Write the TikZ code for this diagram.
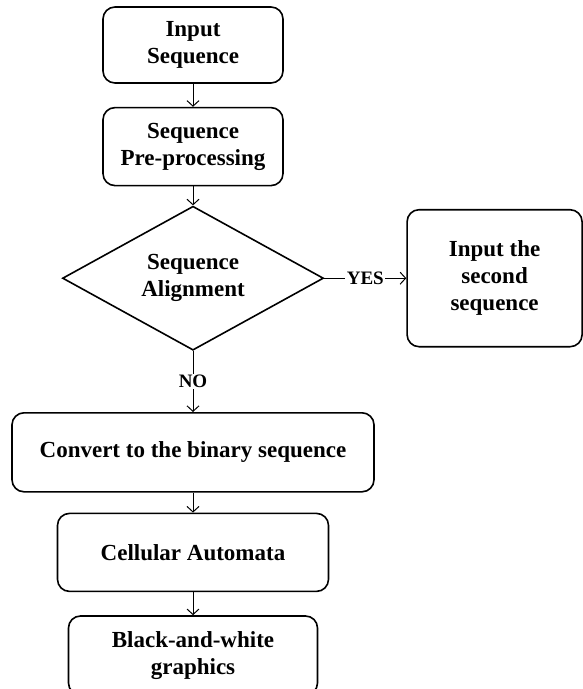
\documentclass[tikz,border=0pt]{standalone}
\usepackage{fontspec}
\setmainfont{Liberation Serif}
\usetikzlibrary{arrows.meta,positioning,shapes.geometric}

\begin{document}
\begin{tikzpicture}[
node distance=21pt and 82pt,
font=\bfseries\fontsize{23}{27}\selectfont,
block/.style={draw,line width=1.6pt,rounded corners=12pt,align=center,inner sep=0pt},
decision/.style={diamond,aspect=1.8,draw,line width=1.6pt,align=center,inner sep=0pt,minimum width=261pt,minimum height=144pt},
arr/.style={-{Straight Barb[length=5.5pt,width=12pt]},line width=1pt},
lbl/.style={fill=white,inner sep=1.5pt,font=\bfseries\fontsize{19}{21}\selectfont}
]
\useasboundingbox (0,0) rectangle (583pt,-689pt);
\node[block,minimum width=180pt,minimum height=76pt] (input) at (193pt,-45pt) {Input\\Sequence};
\node[block,minimum width=180pt,minimum height=78pt,below=23pt of input] (prep) {Sequence\\Pre-processing};
\node[decision,below=19pt of prep] (align) {Sequence\\Alignment};
\node[block,minimum width=175pt,minimum height=137pt,right=82pt of align] (second) {Input the\\second\\sequence};
\node[block,minimum width=362pt,minimum height=79pt,below=61pt of align] (convert) {Convert to the binary sequence};
\node[block,minimum width=271pt,minimum height=78pt,below=20pt of convert] (automata) {Cellular Automata};
\node[block,minimum width=249pt,minimum height=79pt,below=23pt of automata] (graphics) {Black-and-white\\graphics};
\draw[arr] (input)--(prep);
\draw[arr] (prep)--(align);
\draw[arr] (align)--node[lbl]{YES}(second);
\draw[arr] (align)--node[lbl]{NO}(convert);
\draw[arr] (convert)--(automata);
\draw[arr] (automata)--(graphics);
\end{tikzpicture}
\end{document}
